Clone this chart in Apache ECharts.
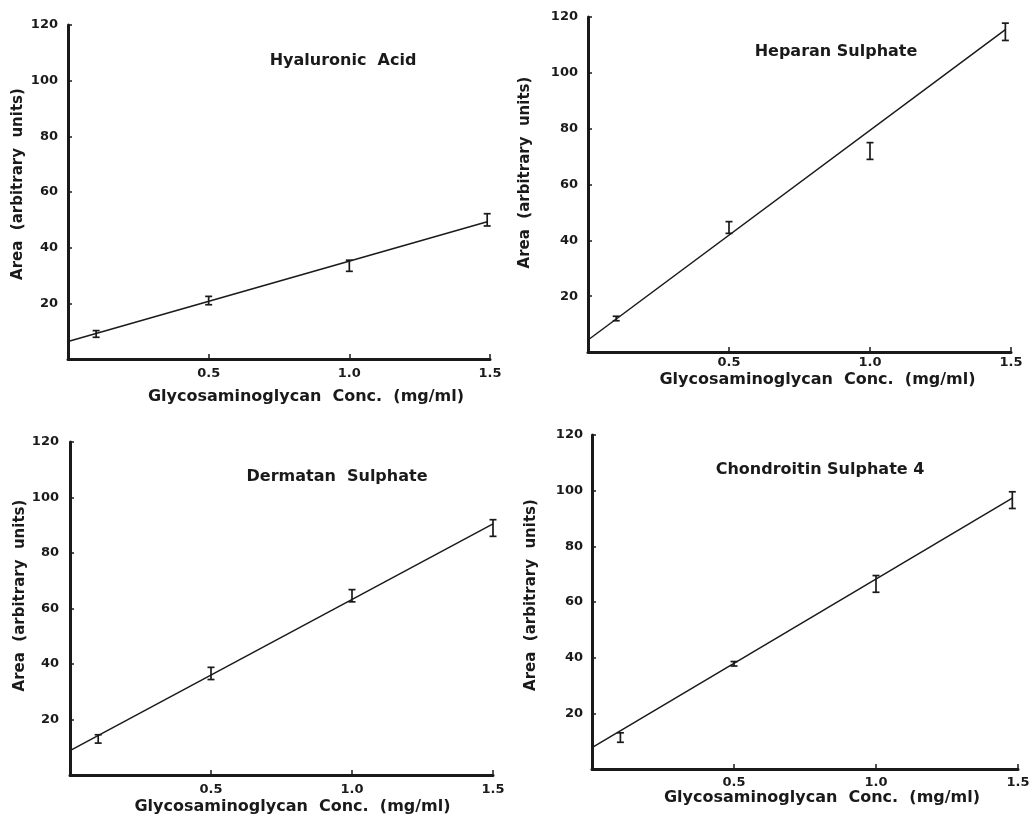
<!DOCTYPE html>
<html>
<head>
<meta charset="utf-8">
<script src="https://cdn.jsdelivr.net/npm/echarts@6/dist/echarts.min.js"></script>
<style>
  html, body { margin: 0; padding: 0; background: #ffffff; }
  #chart { width: 1033px; height: 819px; }
</style>
</head>
<body>
<div id="chart"></div>
<script>
// ---- Data ----
const panelTitles = ['Hyaluronic  Acid', 'Heparan Sulphate', 'Dermatan  Sulphate', 'Chondroitin Sulphate 4'];
const xAxisTitle = 'Glycosaminoglycan  Conc.  (mg/ml)';
const yAxisTitle = 'Area  (arbitrary  units)';

const concHA  = [0.1, 0.5, 1.0, 1.49];
const areaHA  = [9, 21, 33.5, 50];
const errHA   = [1.2, 1.5, 2.0, 2.2];
const fitHA   = [[0, 6.3], [1.49, 49.3]];

const concHS  = [0.1, 0.5, 1.0, 1.48];
const areaHS  = [12, 44.6, 72, 114.7];
const errHS   = [0.8, 2.1, 3.0, 3.1];
const fitHS   = [[0, 4.3], [1.48, 115.5]];

const concDS  = [0.1, 0.5, 1.0, 1.5];
const areaDS  = [13, 36.6, 64.6, 89];
const errDS   = [1.5, 2.2, 2.2, 3.0];
const fitDS   = [[0, 8.8], [1.5, 90.5]];

const concCS  = [0.1, 0.5, 1.0, 1.48];
const areaCS  = [11.3, 37.8, 66.5, 96.6];
const errCS   = [1.7, 0.8, 3.0, 3.0];
const fitCS   = [[0, 7.7], [1.48, 97.3]];

const xTickValues = [0.5, 1.0, 1.5];
const yTickValues = [20, 40, 60, 80, 100, 120];

// ---- Layout ----
const INK = '#1a1a1a';
const FONT = '"DejaVu Sans", "Liberation Sans", sans-serif';

const panels = [
  { conc: concHA, area: areaHA, err: errHA, fit: fitHA, title: panelTitles[0],
    grid: { left: 68, top: 25, width: 422, height: 334 },
    titlePos: [343, 61], yGap: 42, xGap: 30, xShift: 27, yShift: 8, xLabelMargin: 8, yLabelMargin: 10 },
  { conc: concHS, area: areaHS, err: errHS, fit: fitHS, title: panelTitles[1],
    grid: { left: 588, top: 17, width: 423, height: 335 },
    titlePos: [836, 52], yGap: 55, xGap: 20, xShift: 18, yShift: 12, xLabelMargin: 4, yLabelMargin: 10 },
  { conc: concDS, area: areaDS, err: errDS, fit: fitDS, title: panelTitles[2],
    grid: { left: 70, top: 442, width: 423, height: 333 },
    titlePos: [337, 477], yGap: 40, xGap: 24, xShift: 11, yShift: 13, xLabelMargin: 8, yLabelMargin: 11 },
  { conc: concCS, area: areaCS, err: errCS, fit: fitCS, title: panelTitles[3],
    grid: { left: 592, top: 435, width: 426, height: 334 },
    titlePos: [820, 470], yGap: 53, xGap: 21, xShift: 17, yShift: 7, xLabelMargin: 7, yLabelMargin: 9 }
];

const grids = [], xAxes = [], yAxes = [], series = [], graphics = [];

panels.forEach((p, i) => {
  grids.push(Object.assign({ containLabel: false }, p.grid));

  xAxes.push({
    type: 'value', gridIndex: i, min: 0, max: 1.5, interval: 0.5,
    name: xAxisTitle, nameLocation: 'middle', nameGap: p.xGap,
    nameTextStyle: { color: INK, fontFamily: FONT, fontWeight: 'bold', fontSize: 16,
                     padding: [0, 0, 0, p.xShift * 2] },
    axisLine: { show: true, onZero: false, lineStyle: { color: INK, width: 3 } },
    axisTick: { show: true, inside: true, length: 5, lineStyle: { color: INK, width: 1.5 } },
    axisLabel: { color: INK, fontFamily: FONT, fontWeight: 'bold', fontSize: 13, margin: p.xLabelMargin,
                 formatter: v => (xTickValues.indexOf(v) >= 0 ? v.toFixed(1) : '') },
    splitLine: { show: false }
  });

  yAxes.push({
    type: 'value', gridIndex: i, min: 0, max: 120, interval: 20,
    name: yAxisTitle, nameLocation: 'middle', nameGap: p.yGap, nameRotate: 90,
    nameTextStyle: { color: INK, fontFamily: FONT, fontWeight: 'bold', fontSize: 15,
                     padding: [0, 0, 0, p.yShift * 2] },
    axisLine: { show: true, onZero: false, lineStyle: { color: INK, width: 3 } },
    axisTick: { show: true, inside: true, length: 4, lineStyle: { color: INK, width: 1.5 } },
    axisLabel: { color: INK, fontFamily: FONT, fontWeight: 'bold', fontSize: 13, margin: p.yLabelMargin,
                 formatter: v => (yTickValues.indexOf(v) >= 0 ? String(v) : '') },
    splitLine: { show: false }
  });

  // fitted regression line
  series.push({
    type: 'line', xAxisIndex: i, yAxisIndex: i, data: p.fit,
    symbol: 'none', silent: true, animation: false,
    lineStyle: { color: INK, width: 1.5 }
  });

  // error bars (mean ± error)
  series.push({
    type: 'custom', xAxisIndex: i, yAxisIndex: i, animation: false, silent: true,
    data: p.conc.map((c, k) => [c, p.area[k], p.err[k]]),
    renderItem: function (params, api) {
      const x = api.value(0), y = api.value(1), e = api.value(2);
      const top = api.coord([x, y + e]);
      const bot = api.coord([x, y - e]);
      const hw = 3.5;
      const st = { stroke: INK, lineWidth: 1.7 };
      return {
        type: 'group',
        children: [
          { type: 'line', shape: { x1: top[0], y1: top[1], x2: bot[0], y2: bot[1] }, style: st },
          { type: 'line', shape: { x1: top[0] - hw, y1: top[1], x2: top[0] + hw, y2: top[1] }, style: st },
          { type: 'line', shape: { x1: bot[0] - hw, y1: bot[1], x2: bot[0] + hw, y2: bot[1] }, style: st }
        ]
      };
    }
  });

  graphics.push({
    type: 'text', x: p.titlePos[0], y: p.titlePos[1],
    style: { text: p.title, fill: INK, font: 'bold 16px ' + FONT, align: 'center', verticalAlign: 'middle' }
  });
});

const chart = echarts.init(document.getElementById('chart'), null, { renderer: 'canvas' });
chart.setOption({
  backgroundColor: '#ffffff',
  animation: false,
  grid: grids,
  xAxis: xAxes,
  yAxis: yAxes,
  series: series,
  graphic: graphics
});
</script>
</body>
</html>
